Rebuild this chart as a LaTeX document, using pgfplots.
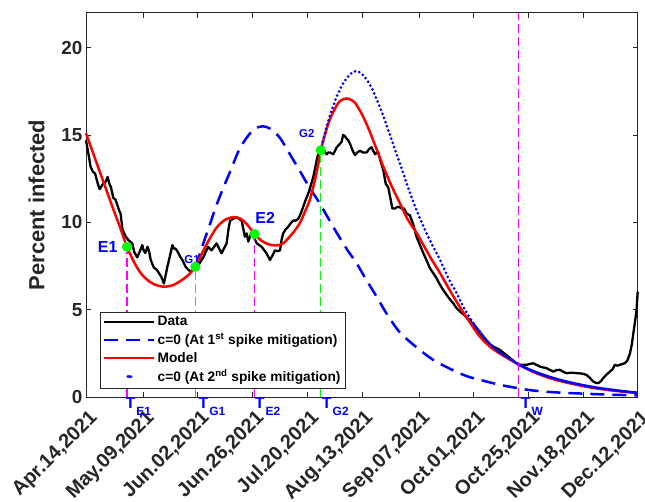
\documentclass[border=0pt]{standalone}
\usepackage{pgfplots}
\pgfplotsset{compat=1.18}
\usepackage{fontspec}
\setmainfont{Liberation Sans}
\definecolor{axgray}{RGB}{38,38,38}
\definecolor{mgreen}{RGB}{0,255,0}
\definecolor{mmag}{RGB}{255,0,255}
\newcommand{\Tl}[1]{T\kern1bp\raisebox{-7.5bp}{\fontsize{12}{12}\selectfont #1}}
\begin{document}
\begin{tikzpicture}
\begin{axis}[
  scale only axis, width=552bp, height=384.6bp,
  xmin=0, xmax=242, ymin=0, ymax=22,
  clip=false,
  /pgf/number format/assume math mode=true,
  xtick={0,25,49,73,97,121,146,170,194,218,242},
  xticklabels={{Apr.14,2021},{May.09,2021},{Jun.02,2021},{Jun.26,2021},{Jul.20,2021},{Aug.13,2021},{Sep.07,2021},{Oct.01,2021},{Oct.25,2021},{Nov.18,2021},{Dec.12,2021}},
  ytick={0,5,10,15,20},
  tick align=inside, major tick length=5bp,
  axis line style={axgray, line width=0.6pt},
  tick style={axgray, line width=0.6pt},
  ticklabel style={font=\fontsize{19}{19}\selectfont\bfseries, text=axgray},
  xticklabel style={font=\fontsize{20}{20}\selectfont\bfseries, xshift=11bp, yshift=-15.5bp, rotate=45, anchor=east},
  ylabel={Percent infected},
  ylabel style={font=\fontsize{22}{22}\selectfont\bfseries, text=axgray, yshift=10bp},
  legend style={at={(0.0254,0.0234)}, anchor=south west, draw=axgray, fill=white,
    font=\fontsize{13.8}{13.8}\selectfont\bfseries, cells={anchor=west},
    inner xsep=3bp, inner ysep=2.5bp, row sep=2bp},
  legend image code/.code={\draw[#1] (0bp,0bp) -- (50bp,0bp);},
]
% Data
\addplot[black, line width=2.3bp, line join=round] coordinates {
(0,14.7)(1,14.0)(2,13.2)(3,12.9)(4,12.8)(5,12.3)(6,11.9)(7.5,12.2)(8.5,12.3)(9.5,12.6)(10.3,12.2)(11,12.0)(12,11.4)(13,11.3)(14.5,10.7)(15.2,10.5)(16,9.6)(17.4,9.2)(18.5,9.0)(20.3,8.8)(21.2,8.3)(22.5,8.0)(23.5,8.3)(24.7,8.7)(25.3,8.4)(26,8.25)(27,8.6)(27.6,8.4)(28.4,7.85)(29.8,7.4)(31,7.3)(32,7.1)(33,6.9)(34.2,6.5)(35.7,7.46)(36.7,8.0)(37.9,8.7)(38.5,8.5)(39.3,8.5)(40.3,8.3)(41.5,8.0)(42.5,7.8)(43.7,7.46)(44.8,7.3)(45.9,7.18)(47,7.3)(48.5,7.4)(49.5,7.6)(50.5,7.8)(51.5,8.0)(52.5,8.3)(53.6,8.6)(55.1,8.4)(56.2,8.6)(57.3,8.8)(58.4,8.5)(59.5,8.23)(60.5,8.5)(61.7,8.8)(62.5,9.6)(63.2,10.1)(64.5,10.2)(66.1,10.3)(67.2,10.2)(68.3,10.1)(69.7,9.18)(70.5,9.37)(71.2,8.9)(72.7,9.46)(73.8,9.1)(74.9,8.8)(76,8.7)(77.1,8.6)(78.2,8.4)(79.2,8.23)(80.7,7.85)(81.8,8.1)(82.9,8.4)(84,8.35)(85.1,8.4)(85.8,9.0)(86.5,9.37)(87.6,9.6)(88.7,9.75)(89.8,9.95)(90.9,10.1)(92,10.1)(93.1,10.2)(94.2,10.5)(95.3,10.9)(96.4,11.3)(97.5,11.65)(98.6,12.1)(99.7,12.6)(100.5,13.1)(101.2,13.56)(102,14.0)(102.6,14.3)(103.3,14.35)(104,14.3)(104.8,14.0)(105.6,13.9)(106.3,14.0)(107,14.0)(108.5,13.9)(110,14.3)(111.4,14.5)(112.1,14.6)(112.8,15.0)(113.5,14.95)(114.3,14.8)(115,14.7)(115.8,14.5)(117,14.1)(118,13.85)(119,14.0)(120.2,14.1)(121.5,14.0)(123.1,14.0)(124.2,14.2)(125.3,14.3)(126,14.1)(126.8,13.9)(127.5,14.0)(128.2,14.0)(129.2,13.5)(130.4,13.0)(131.5,12.2)(132.6,12.0)(133.5,11.4)(134.4,10.8)(135.5,10.8)(137,10.9)(138.5,10.8)(139.5,10.8)(140.7,10.5)(142.1,10.4)(143.5,9.9)(145,9.18)(146.5,8.7)(148,8.23)(149.5,7.8)(150.9,7.37)(152.3,7.1)(153.8,6.8)(155.2,6.45)(156.7,6.13)(158.2,5.85)(159.6,5.6)(161.1,5.37)(162.5,5.1)(164,4.9)(165.5,4.75)(167,4.55)(168.4,4.42)(170,4.1)(171.4,3.85)(172.5,3.6)(174,3.4)(176,3.15)(177.3,3.0)(178.6,2.9)(180,2.8)(181.6,2.7)(183,2.55)(184.5,2.4)(186,2.23)(187.8,2.05)(189.6,1.85)(191.5,1.85)(193.3,1.85)(194.8,1.9)(196.2,1.94)(197.5,1.85)(199.1,1.75)(200.5,1.7)(202,1.66)(203.5,1.55)(205,1.46)(206.5,1.55)(207.9,1.56)(209.3,1.45)(210.8,1.37)(213,1.4)(215.2,1.37)(217.4,1.35)(219.6,1.27)(221,1.1)(222.5,0.89)(223.6,0.82)(224.7,0.8)(225.8,0.9)(226.9,1.09)(228.4,1.3)(229.8,1.46)(231,1.6)(232,1.85)(233,1.8)(234.2,1.85)(235.3,1.9)(236.4,1.94)(237.5,2.1)(238.6,2.5)(239.4,3.0)(240.1,3.66)(240.8,4.3)(241.5,4.99)(242,6.03)
};
\addlegendentry{Data}
% c=0 at 1st spike
\addplot[blue, line width=2.5bp, dash pattern=on 14bp off 8bp, smooth] coordinates {
(48,7.46)(50,8.2)(52,9.0)(54.4,9.9)(57,10.9)(60,11.9)(63.2,12.9)(67,14.1)(70.5,14.85)(74,15.35)(77.5,15.5)(81,15.35)(85,14.85)(89,14.0)(94,12.9)(98,12.0)(102,11.2)(106,10.3)(110,9.4)(114.5,8.45)(118.7,7.66)(123,6.7)(127.5,5.75)(132,4.75)(137.7,3.7)(145,2.85)(152.3,2.13)(160,1.6)(167,1.2)(174,0.95)(181.6,0.7)(190,0.5)(196,0.38)(205,0.28)(218,0.2)(230,0.14)(242,0.1)
};
\addlegendentry{c=0 (At 1\textsuperscript{st} spike mitigation)}
% Model
\addplot[red, line width=2.5bp, smooth] coordinates {
(0,15.1)(4,13.65)(8,12.2)(12,10.75)(15,9.7)(18,8.6)(21,7.75)(24,7.1)(27,6.7)(30,6.45)(34,6.32)(38,6.4)(41.5,6.65)(45,7.0)(48,7.46)(51,8.25)(54,9.0)(57.3,9.7)(61,10.15)(64.6,10.3)(67,10.25)(69,10.1)(71.5,9.75)(74,9.33)(77,8.95)(80,8.75)(83.6,8.68)(86.5,8.8)(89.5,9.2)(92,9.6)(94,10.0)(96,10.6)(98.2,11.3)(100.4,12.4)(102,13.4)(103,14.13)(105,15.1)(107,15.9)(110,16.7)(112,17.0)(114.3,17.09)(116.5,17.0)(118,16.85)(121,16.2)(124,15.35)(127,14.35)(130.4,13.2)(134,12.1)(137.7,11.1)(141,10.2)(145,9.4)(148,8.7)(151.5,7.9)(155.3,7.1)(159,6.25)(162.6,5.45)(167,4.55)(172.8,3.46)(178,2.8)(184,2.3)(190,1.85)(196,1.45)(202,1.15)(208,0.92)(214,0.74)(220,0.58)(226,0.46)(232,0.36)(242,0.23)
};
\addlegendentry{Model}
% c=0 at 2nd spike
\addplot[blue, line width=3bp, line cap=round, dash pattern=on 0bp off 4.4bp, smooth,
  legend image code/.code={\fill[blue] (25bp,0bp) circle (1.6bp);}] coordinates {
(103,14.13)(105,15.2)(107,16.1)(110,17.2)(113,18.0)(116,18.5)(118.4,18.65)(121,18.5)(124,18.0)(127,17.2)(130.4,16.1)(134,14.75)(137.7,13.37)(141,12.1)(145,10.7)(150,9.2)(155.3,7.85)(159,6.8)(162.6,5.94)(166,5.05)(169.9,4.23)
};
\addlegendentry{c=0 (At 2\textsuperscript{nd} spike mitigation)}
\addplot[blue, line width=3bp, line cap=round, dash pattern=on 0bp off 2.6bp, smooth, forget plot] coordinates {
(169.9,4.23)(175.7,3.27)(180,2.7)(185,2.25)(190,1.85)
};
\addplot[blue, line width=2.6bp, smooth, forget plot] coordinates {
(190,1.85)(195,1.55)(200,1.3)(206,1.05)(212,0.85)(218,0.68)(224,0.54)(230,0.43)(236,0.33)(242,0.25)
};
% vertical lines
\addplot[mmag, line width=1.4bp, dash pattern=on 9bp off 4bp, forget plot] coordinates {(18,0)(18,8.6)};
\addplot[mgreen, line width=1.4bp, dash pattern=on 9bp off 4bp, forget plot] coordinates {(48,0)(48,7.46)};
\addplot[mmag, line width=1.4bp, dash pattern=on 9bp off 4bp, forget plot] coordinates {(74,0)(74,9.33)};
\addplot[mgreen, line width=1.4bp, dash pattern=on 9bp off 4bp, forget plot] coordinates {(103,0)(103,14.13)};
\addplot[mmag, line width=1.5bp, dash pattern=on 9bp off 4bp, forget plot] coordinates {(189.8,0)(189.8,22)};
% labels
\node[anchor=base, inner sep=0pt, text=blue, font=\fontsize{11.5}{11.5}\selectfont\bfseries, xshift=-3.3bp, yshift=3.2bp] at (axis cs:48,7.46) {G1};
\node[anchor=base, inner sep=0pt, text=blue, font=\fontsize{11.5}{11.5}\selectfont\bfseries, xshift=-14bp, yshift=12.7bp] at (axis cs:103,14.13) {G2};
\node[anchor=east, inner sep=0pt, text=blue, font=\fontsize{16}{16}\selectfont\bfseries, xshift=-9.4bp] at (axis cs:18,8.6) {E1};
\node[anchor=base west, inner sep=0pt, text=blue, font=\fontsize{16}{16}\selectfont\bfseries, xshift=0.6bp, yshift=10.7bp] at (axis cs:74,9.33) {E2};
% green dots
\addplot[only marks, mark=*, mark size=4.8bp, mgreen, forget plot] coordinates {(18,8.6)(48,7.46)(74,9.33)(103,14.13)};
% T labels
\begin{scope}[every node/.style={anchor=north west, inner sep=0pt, text=blue, font=\fontsize{16}{16}\selectfont\bfseries}]
\node[xshift=-1.5bp] at (axis cs:18,0) {\Tl{E1}};
\node[xshift=3bp] at (axis cs:48,0) {\Tl{G1}};
\node[xshift=0bp] at (axis cs:74,0) {\Tl{E2}};
\node[xshift=1bp] at (axis cs:103,0) {\Tl{G2}};
\node[xshift=1.5bp] at (axis cs:190,0) {\Tl{W}};
\end{scope}
\end{axis}
\pgfresetboundingbox
\path ([xshift=-86bp,yshift=-104.7bp]current axis.south west) rectangle ([xshift=7.3bp,yshift=12.7bp]current axis.north east);
\end{tikzpicture}
\end{document}
